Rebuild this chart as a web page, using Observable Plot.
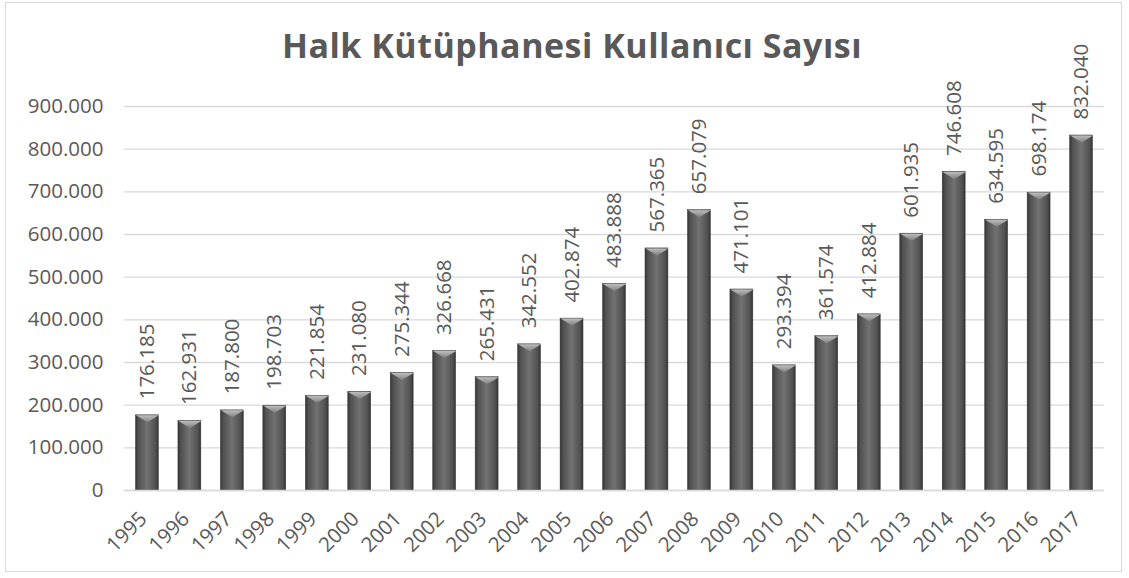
<!DOCTYPE html>
<html>
<head>
<meta charset="utf-8">
<script src="https://cdn.jsdelivr.net/npm/d3@7"></script>
<script src="https://cdn.jsdelivr.net/npm/@observablehq/plot@0.6"></script>
<style>
  html, body { margin: 0; padding: 0; background: #fff; }
  #wrap { position: relative; width: 1129px; height: 578px; overflow: hidden; font-family: "Open Sans", sans-serif; }
  #frame { position: absolute; left: 5px; top: 2px; width: 1117px; height: 570px; border: 1px solid #d9d9d9; box-sizing: border-box; }
  #title { position: absolute; left: 0; width: 1144px; top: 23px; text-align: center; font-size: 34px; letter-spacing: 0.5px; font-weight: bold; color: #595959; line-height: 44px; }
  #chart { position: absolute; left: 0; top: 0; }
</style>
</head>
<body>
<svg width="0" height="0" style="position:absolute">
  <defs>
    <linearGradient id="barGrad" x1="0" x2="1" y1="0" y2="0">
      <stop offset="0" stop-color="#333333"/>
      <stop offset="0.12" stop-color="#505050"/>
      <stop offset="0.5" stop-color="#727272"/>
      <stop offset="0.88" stop-color="#505050"/>
      <stop offset="1" stop-color="#333333"/>
    </linearGradient>
    <linearGradient id="capGrad" x1="0" x2="0" y1="0" y2="1">
      <stop offset="0" stop-color="#bdbdbd"/>
      <stop offset="1" stop-color="#808080"/>
    </linearGradient>
  </defs>
</svg>
<div id="wrap">
  <div id="frame"></div>
  <div id="title">Halk Kütüphanesi Kullanıcı Sayısı</div>
  <div id="chart"></div>
</div>
<script>
const years = ["1995","1996","1997","1998","1999","2000","2001","2002","2003","2004","2005","2006","2007","2008","2009","2010","2011","2012","2013","2014","2015","2016","2017"];
const users = [176185,162931,187800,198703,221854,231080,275344,326668,265431,342552,402874,483888,567365,657079,471101,293394,361574,412884,601935,746608,634595,698174,832040];
const yTicks = [0,100000,200000,300000,400000,500000,600000,700000,800000,900000];

const data = years.map((y, i) => ({year: y, value: users[i]}));
const fmt = d3.formatLocale({thousands: ".", grouping: [3], decimal: ",", currency: ["", ""]}).format(",");

const cap = {
  draw(context, size) {
    const w = 11.5, h = 7;
    context.moveTo(-w, 0);
    context.lineTo(w, 0);
    context.lineTo(0, h);
    context.closePath();
  }
};

const chart = Plot.plot({
  width: 1129,
  height: 578,
  marginLeft: 124,
  marginRight: 25,
  marginTop: 106,
  marginBottom: 88,
  style: {fontFamily: "'Open Sans', sans-serif", fontSize: "20px", color: "#595959", background: "transparent", overflow: "visible"},
  x: {domain: years, paddingInner: 0.46, paddingOuter: 0.27, align: 0.5, round: false, label: null},
  y: {domain: [0, 900000], label: null},
  marks: [
    Plot.gridY(yTicks, {stroke: "#d9d9d9", strokeOpacity: 1, strokeWidth: 1.3}),
    Plot.axisY({ticks: yTicks, tickFormat: fmt, tickSize: 0, tickPadding: 21, fontSize: 20.5, fill: "#595959", label: null}),
    Plot.axisX({tickRotate: -45, tickSize: 0, tickPadding: 15, dx: -4, dy: 10, fontSize: 20.5, fill: "#595959", label: null}),
    Plot.barY(data, {x: "year", y: "value", fill: "url(#barGrad)", stroke: "#3a3a3a", strokeWidth: 0.5}),
    Plot.dot(data, {x: "year", y: "value", symbol: cap, fill: "url(#capGrad)", stroke: "none", r: 3}),
    Plot.ruleY([0], {stroke: "#d9d9d9", strokeWidth: 1.5}),
    Plot.text(data, {x: "year", y: "value", text: d => fmt(d.value), rotate: -90, textAnchor: "start", lineAnchor: "middle", dy: -16, fontSize: 20.5, fill: "#595959"})
  ]
});
document.getElementById("chart").appendChild(chart);
</script>
</body>
</html>
